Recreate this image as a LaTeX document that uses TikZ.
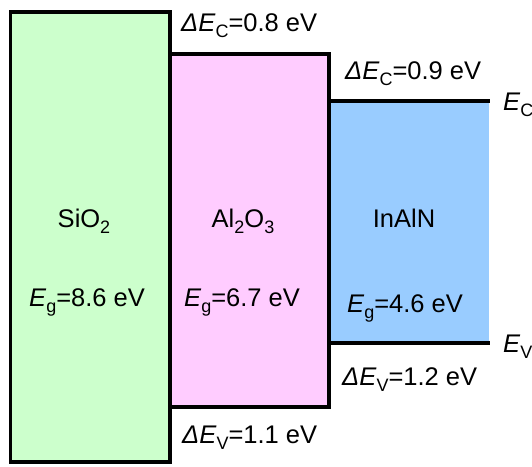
\documentclass[tikz,border=0pt]{standalone}
\usepackage{fontspec}
\setmainfont{Liberation Sans}
\definecolor{oxgreen}{HTML}{CCFFCC}
\definecolor{oxpink}{HTML}{FFCCFF}
\definecolor{semiblue}{HTML}{99CCFF}
\newcommand\lowsub[1]{\raisebox{-0.26em}{\fontsize{18}{18}\selectfont #1}}
\newcommand\dE{\textit{ΔE}}
\begin{document}
\begin{tikzpicture}[x=1pt,y=-1pt,
  band/.style={line width=3.6pt, line join=miter},
  lbl/.style={inner sep=0pt, anchor=base west, font=\fontsize{25.5}{25.5}\selectfont},
  mid/.style={inner sep=0pt, anchor=base, font=\fontsize{25.5}{25.5}\selectfont}]
\useasboundingbox (0,0) rectangle (532,466);
% band fills
\fill[oxgreen] (10.5,12) rectangle (170,462);
\fill[oxpink] (170,54) rectangle (329,407);
\fill[semiblue] (329,101) rectangle (489,343);
% band outlines
\draw[band] (10.5,462) -- (10.5,12) -- (170,12) -- (170,462) -- cycle;
\draw[band] (170,54) -- (329,54) -- (329,407) -- (170,407);
\draw[band] (329,101) -- (490,101);
\draw[band] (329,343) -- (490,343);
% material names
\node[mid] (sio) at (84,227) {SiO\lowsub{2}};
\node[mid] (alo) at (243,227) {Al\lowsub{2}O\lowsub{3}};
\node[mid] (inaln) at (404,227) {InAlN};
% gaps
\node[mid] (g1) at (87,306) {\textit{E}\lowsub{g}=8.6 eV};
\node[mid] (g2) at (242,306) {\textit{E}\lowsub{g}=6.7 eV};
\node[mid] (g3) at (405,312) {\textit{E}\lowsub{g}=4.6 eV};
% offsets
\node[lbl] (dc1) at (181,31) {\dE\lowsub{C}=0.8 eV};
\node[lbl] (dc2) at (345,79) {\dE\lowsub{C}=0.9 eV};
\node[lbl] (dv2) at (342,385) {\dE\lowsub{V}=1.2 eV};
\node[lbl] (dv1) at (182,443) {\dE\lowsub{V}=1.1 eV};
% band edge names
\node[lbl] (ec) at (503,110) {\textit{E}\lowsub{C}};
\node[lbl] (ev) at (503,352) {\textit{E}\lowsub{V}};
\end{tikzpicture}
\end{document}
